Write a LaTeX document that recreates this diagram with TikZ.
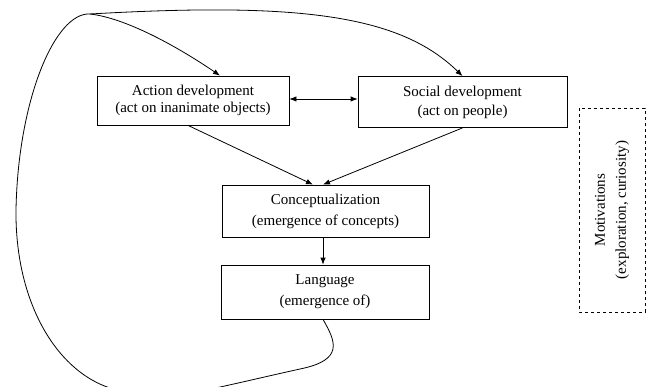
\documentclass[tikz,border=0pt]{standalone}
\usepackage{fontspec}
\setmainfont{Liberation Serif}
\usetikzlibrary{arrows.meta,calc}
\begin{document}
\begin{tikzpicture}[x=1pt,y=-1pt,
  every node/.style={font=\fontsize{15}{19}\selectfont, align=center, inner sep=0pt},
  box/.style={draw, line width=0.8pt},
  conn/.style={line width=0.8pt},
  tip/.style={-{Latex[length=7pt,width=5.5pt]}}]
\useasboundingbox (0,0) rectangle (647,387);
\clip (0,0) rectangle (647,387);
\node[box, minimum width=192pt, minimum height=49pt, font=\fontsize{15}{17.5}\selectfont] (act) at (193,100.5) {Action development\\(act on inanimate objects)};
\node[box, minimum width=209pt, minimum height=51pt] (soc) at (462.5,102) {Social development\\(act on people)};
\node[box, minimum width=207pt, minimum height=52pt, font=\fontsize{15}{21}\selectfont] (conc) at (325.5,211) {Conceptualization\\(emergence of concepts)};
\node[box, minimum width=208pt, minimum height=54pt, font=\fontsize{15}{21}\selectfont] (lang) at (325,292) {Language\\(emergence of)};
\node[draw, dashed, line width=0.7pt, rotate=90, minimum width=204pt, minimum height=66pt, font=\fontsize{15}{21}\selectfont] (mot) at (612,210) {Motivations\\(exploration, curiosity)};
\coordinate (top) at (90,14);
% arrows between boxes
\draw[conn, {Latex[length=7pt,width=5.5pt]}-{Latex[length=7pt,width=5.5pt]}] ($(act.east)+(0,-1.5)$) -- ($(act.east -| soc.west)+(0,-1.5)$);
\draw[conn, tip] ($(act.south)+(-5,0)$) -- ($(conc.north)+(-12.5,0)$);
\draw[conn, tip] (soc.south) -- ($(conc.north)+(-2.5,0)$);
\draw[conn, tip] ($(conc.south)+(-2.5,0)$) -- ($(lang.north)+(-2,0)$);
% feedback loop
\draw[conn] (top) .. controls (55,12) and (18,100) .. (16,210)
  .. controls (15,300) and (55,370) .. (110,388)
  .. controls (130,395) and (140,400) .. (160,398)
  .. controls (190,395) and (250,380) .. (300,369)
  .. controls (344,360) and (336,342) .. ($(lang.south)+(-2,0)$);
\draw[conn, tip] (top) .. controls (125,18) and (175,45) .. ($(act.north)+(27,0)$);
\draw[conn, tip] (top) .. controls (300,2) and (400,15) .. (soc.north);
\end{tikzpicture}
\end{document}
